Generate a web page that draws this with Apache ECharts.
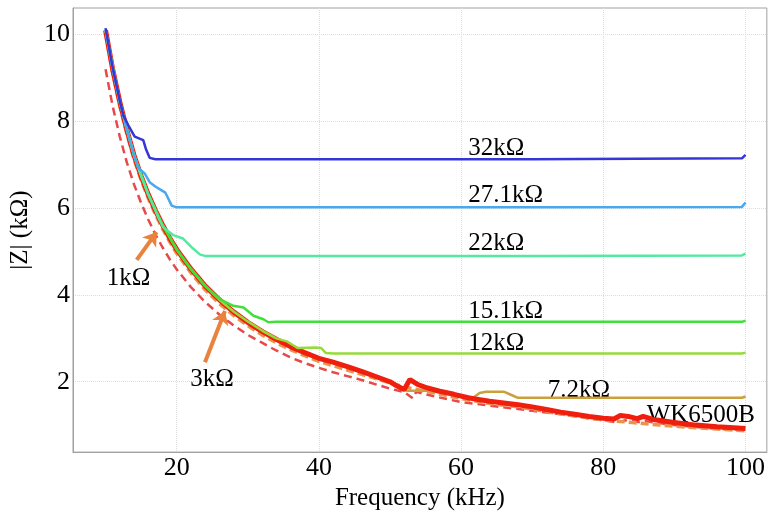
<!DOCTYPE html>
<html>
<head>
<meta charset="utf-8">
<script src="https://cdn.jsdelivr.net/npm/echarts@6/dist/echarts.min.js"></script>
<style>
  html, body { margin: 0; padding: 0; background: #ffffff; }
  #chart { width: 768px; height: 516px; }
</style>
</head>
<body>
<div id="chart"></div>
<script>
// 频率 (kHz) / 阻抗 (kΩ)
var xTicks = [20, 40, 60, 80, 100]
var yTicks = [2, 4, 6, 8, 10]

// WK6500B 实测
var fWK = [10, 11, 12, 13, 14, 15, 16, 17, 18, 19, 20, 22, 24, 26, 28, 30, 32, 34, 36, 38, 40, 42, 44, 46, 48, 50, 51, 52, 52.8, 54, 55, 57, 59, 61, 62, 64, 66, 68, 70, 72, 74, 76, 78, 80, 81.5, 82.4, 83.5, 84.8, 85.6, 87, 90, 93, 96, 100]
var zWK = [10.1, 9.2, 8.45, 7.8, 7.22, 6.74, 6.32, 5.95, 5.62, 5.32, 5.05, 4.6, 4.21, 3.89, 3.61, 3.37, 3.16, 2.98, 2.81, 2.67, 2.54, 2.45, 2.35, 2.24, 2.12, 2.0, 1.9, 1.82, 2.05, 1.93, 1.87, 1.78, 1.71, 1.63, 1.6, 1.55, 1.51, 1.47, 1.42, 1.36, 1.3, 1.25, 1.2, 1.16, 1.14, 1.22, 1.2, 1.15, 1.2, 1.13, 1.06, 1.0, 0.96, 0.92]

// 1kΩ (橙色虚线)
var f1k = [10, 11, 12, 13, 14, 15, 16, 17, 18, 19, 20, 22, 24, 26, 28, 30, 32, 34, 36, 38, 40, 44, 48, 52, 56, 60, 64, 68, 72, 76, 80, 84, 88, 92, 96, 100]
var z1k = [10.05, 9.12, 8.36, 7.71, 7.13, 6.65, 6.23, 5.86, 5.53, 5.23, 4.96, 4.51, 4.12, 3.8, 3.53, 3.29, 3.08, 2.9, 2.74, 2.6, 2.47, 2.27, 2.07, 1.88, 1.75, 1.61, 1.5, 1.42, 1.31, 1.21, 1.12, 1.06, 1.0, 0.95, 0.91, 0.87]

// 3kΩ (红色虚线)
var f3k = [10, 11, 12, 13, 14, 15, 16, 17, 18, 19, 20, 22, 24, 26, 28, 30, 32, 34, 36, 38, 40, 42, 44, 46, 48, 50, 52, 53.2, 53.7, 55, 58, 60, 62, 65, 70, 75, 80, 82, 83, 85, 86, 90, 95, 100]
var z3k = [9.2, 8.35, 7.65, 7.05, 6.55, 6.12, 5.74, 5.4, 5.1, 4.83, 4.59, 4.18, 3.84, 3.55, 3.3, 3.08, 2.9, 2.72, 2.56, 2.43, 2.32, 2.22, 2.13, 2.04, 1.94, 1.84, 1.76, 1.62, 1.77, 1.71, 1.6, 1.53, 1.49, 1.43, 1.33, 1.23, 1.11, 1.06, 1.11, 1.07, 1.09, 1.0, 0.93, 0.88]

// 7.2kΩ
var f72 = [10, 12, 14, 16, 18, 20, 24, 28, 32, 36, 40, 44, 48, 50, 52, 52.6, 55, 57, 59, 61, 61.8, 62.6, 63.5, 66, 67, 68, 70, 99.5, 100]
var z72 = [10.08, 8.43, 7.2, 6.3, 5.6, 5.03, 4.19, 3.59, 3.14, 2.79, 2.52, 2.33, 2.1, 1.97, 1.8, 1.79, 1.79, 1.76, 1.7, 1.64, 1.64, 1.74, 1.77, 1.77, 1.7, 1.63, 1.63, 1.63, 1.66]

// 12kΩ
var f12 = [10, 12, 14, 16, 18, 20, 22, 24, 26, 28, 30, 32, 34, 35.5, 36.5, 37, 39.5, 40.3, 41, 42, 70, 99.5, 100]
var z12 = [10.1, 8.45, 7.22, 6.32, 5.62, 5.05, 4.6, 4.21, 3.89, 3.62, 3.39, 3.18, 3.0, 2.93, 2.83, 2.78, 2.79, 2.78, 2.66, 2.65, 2.65, 2.65, 2.67]

// 15.1kΩ
var f151 = [10, 12, 14, 16, 18, 20, 22, 24, 26.1, 27.96, 29.4, 30.8, 32.2, 32.9, 34, 60, 99.5, 100]
var z151 = [10.1, 8.45, 7.22, 6.32, 5.62, 5.05, 4.6, 4.21, 3.9, 3.75, 3.71, 3.52, 3.44, 3.37, 3.38, 3.38, 3.38, 3.41]

// 22kΩ
var f22 = [10, 11, 12, 13, 14, 15, 16, 17, 17.4, 18.1, 19.5, 20.9, 22.3, 23.3, 24, 40, 70, 99.5, 100]
var z22 = [10.1, 9.2, 8.45, 7.8, 7.22, 6.74, 6.32, 5.95, 5.79, 5.56, 5.38, 5.3, 5.07, 4.93, 4.9, 4.9, 4.9, 4.91, 4.95]

// 27.1kΩ
var f271 = [10, 11, 12, 13, 14, 14.6, 15.5, 16.2, 17, 17.6, 18.4, 19.3, 20, 40, 70, 99.5, 100]
var z271 = [10.12, 9.22, 8.46, 7.81, 7.23, 6.93, 6.8, 6.6, 6.5, 6.44, 6.36, 6.06, 6.02, 6.02, 6.02, 6.03, 6.13]

// 32kΩ
var f32 = [10, 11, 12, 12.5, 13.2, 14.1, 15.3, 15.7, 16.2, 17, 40, 70, 99.5, 100]
var z32 = [10.15, 9.24, 8.48, 8.14, 7.91, 7.65, 7.57, 7.35, 7.16, 7.13, 7.13, 7.13, 7.15, 7.23]

// 曲线标注
var labelNames = ['32kΩ', '27.1kΩ', '22kΩ', '15.1kΩ', '12kΩ', '7.2kΩ', 'WK6500B', '1kΩ', '3kΩ']
var labelX = [61, 61, 61, 61, 61, 72.2, 86.1, 10.16, 21.9]
var labelY = [7.38, 6.29, 5.18, 3.63, 2.89, 1.81, 1.22, 4.37, 2.06]

// 箭头 [起点f, 起点Z, 终点f, 终点Z]
var arrows = [
  [14.38, 4.81, 17.19, 5.45],
  [23.98, 2.45, 26.79, 3.63]
]

function pairs(xs, ys) {
  return xs.map(function(x, i) { return [x, ys[i]] })
}

var serif = '"Liberation Serif", "Times New Roman", serif'

function lineSeries(name, xs, ys, color, width, type) {
  return {
    name: name,
    type: 'line',
    data: pairs(xs, ys),
    symbol: 'none',
    smooth: false,
    silent: true,
    lineStyle: { color: color, width: width, type: type || 'solid' }
  }
}

var myChart = echarts.init(document.getElementById('chart'))
var option = {
  animation: false,
  backgroundColor: '#ffffff',
  grid: {
    left: 73,
    top: 8,
    right: 1,
    bottom: 58,
    show: true,
    borderColor: '#a0a0a0',
    borderWidth: 1
  },
  xAxis: {
    type: 'value',
    min: 5.42,
    max: 103,
    name: 'Frequency (kHz)',
    nameLocation: 'middle',
    nameGap: 27,
    nameTextStyle: { fontFamily: serif, fontSize: 25, color: '#000' },
    axisLine: { show: true, lineStyle: { color: '#a0a0a0' } },
    axisTick: { show: false, customValues: xTicks },
    axisLabel: { customValues: xTicks, fontFamily: serif, fontSize: 26, color: '#000', margin: 3 },
    splitLine: { show: true, lineStyle: { color: '#dcdcdc', type: 'dotted' } }
  },
  yAxis: {
    type: 'value',
    min: 0.378,
    max: 10.614,
    name: '|Z| (kΩ)',
    nameLocation: 'middle',
    nameGap: 35,
    nameTextStyle: { fontFamily: serif, fontSize: 25, color: '#000' },
    axisLine: { show: true, lineStyle: { color: '#a0a0a0' } },
    axisTick: { show: false, customValues: yTicks },
    axisLabel: { customValues: yTicks, fontFamily: serif, fontSize: 26, color: '#000', margin: 3 },
    splitLine: { show: true, lineStyle: { color: '#dcdcdc', type: 'dotted' } }
  },
  series: [
    lineSeries('3kΩ', f3k, z3k, '#e84848', 2.5, [8, 5]),
    lineSeries('1kΩ', f1k, z1k, '#e8944e', 3.5, [8, 4]),
    lineSeries('7.2kΩ', f72, z72, '#c9a03c', 2.5),
    lineSeries('WK6500B', fWK, zWK, '#f01e0e', 5),
    lineSeries('12kΩ', f12, z12, '#96da3c', 2.5),
    lineSeries('15.1kΩ', f151, z151, '#3fe03a', 2.5),
    lineSeries('22kΩ', f22, z22, '#52eaa0', 2.5),
    lineSeries('27.1kΩ', f271, z271, '#4aa8ee', 2.5),
    lineSeries('32kΩ', f32, z32, '#3535d8', 2.5),
    {
      name: 'labels',
      type: 'scatter',
      silent: true,
      symbolSize: 0,
      itemStyle: { opacity: 1 },
      data: labelNames.map(function(n, i) {
        return { name: n, value: [labelX[i], labelY[i]] }
      }),
      label: {
        show: true,
        position: 'right',
        distance: 0,
        formatter: '{b}',
        fontFamily: serif,
        fontSize: 25,
        color: '#000',
        opacity: 1,
        textBorderWidth: 0
      },
      markLine: {
        silent: true,
        symbol: ['none', 'arrow'],
        symbolSize: 13,
        label: { show: false },
        lineStyle: { color: '#e8823c', width: 4, type: 'solid', opacity: 1 },
        data: arrows.map(function(a) {
          return [{ coord: [a[0], a[1]] }, { coord: [a[2], a[3]] }]
        })
      }
    }
  ]
}
myChart.setOption(option, true)
</script>
</body>
</html>
